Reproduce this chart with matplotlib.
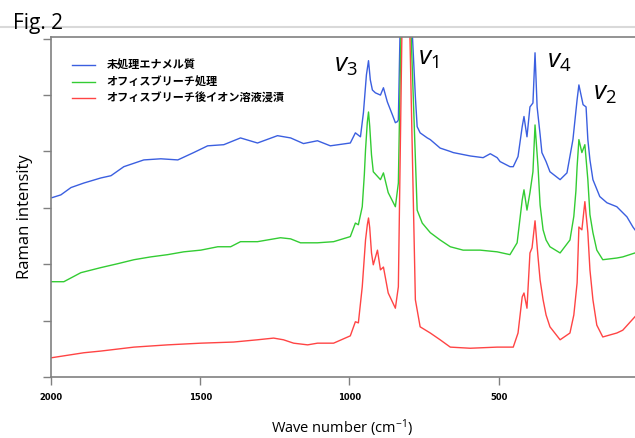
import matplotlib
matplotlib.use('Agg')
import matplotlib.pyplot as plt
from matplotlib.lines import Line2D

plt.rcParams['font.family'] = ['Open Sans', 'Noto Sans CJK JP', 'DejaVu Sans']
plt.rcParams['mathtext.fontset'] = 'custom'
plt.rcParams['mathtext.rm'] = 'Open Sans'
plt.rcParams['mathtext.it'] = 'Open Sans:italic'

# 凡例
labels = ['未処理エナメル質', 'オフィスブリーチ処理', 'オフィスブリーチ後イオン溶液浸漬']

# 未処理エナメル質 (blue)
blue_wn = [1997, 1967, 1933, 1890, 1833, 1799, 1756, 1689, 1632, 1575, 1522, 1475, 1421, 1365,
           1308, 1241, 1197, 1154, 1107, 1064, 997, 980, 963, 953, 943, 936, 930, 923, 913, 896,
           886, 873, 856, 846, 839, 836, 829, 811, 793, 779, 773, 763, 739, 729, 696, 662, 652,
           595, 552, 528, 505, 495, 462, 451, 435, 421, 415, 405, 395, 385, 378, 371, 361, 355,
           341, 328, 294, 271, 251, 237, 231, 217, 207, 201, 194, 184, 161, 137, 104, 70, 50, 43]
blue_int = [3.18, 3.23, 3.36, 3.44, 3.53, 3.57, 3.73, 3.85, 3.87, 3.85, 3.98, 4.10, 4.12, 4.24,
            4.15, 4.28, 4.24, 4.14, 4.19, 4.10, 4.15, 4.33, 4.26, 4.69, 5.36, 5.61, 5.27, 5.09, 5.04, 5.00,
            5.13, 4.88, 4.65, 4.51, 4.53, 4.56, 6.5, 9.0, 6.5, 4.97, 4.44, 4.33, 4.24, 4.21, 4.06, 4.00, 3.98,
            3.92, 3.89, 3.96, 3.89, 3.82, 3.73, 3.73, 3.91, 4.44, 4.62, 4.26, 4.79, 4.86, 5.75, 4.79, 4.30, 3.98,
            3.82, 3.64, 3.50, 3.62, 4.21, 4.92, 5.18, 4.83, 4.79, 4.21, 3.85, 3.50, 3.20, 3.09, 3.02, 2.84, 2.66, 2.61]

# オフィスブリーチ処理 (green)
green_wn = [2000, 1957, 1900, 1833, 1776, 1722, 1666, 1609, 1555, 1498, 1441, 1398, 1365, 1308,
            1231, 1197, 1164, 1107, 1053, 997, 980, 970, 957, 950, 946, 940, 936, 932, 926, 920,
            896, 886, 870, 846, 836, 826, 811, 796, 773, 756, 729, 696, 662, 619, 562, 505, 462,
            438, 421, 415, 405, 395, 385, 378, 368, 361, 351, 341, 328, 294, 261, 248, 241, 237,
            231, 221, 211, 201, 194, 184, 171, 151, 104, 84, 43]
green_int = [1.69, 1.69, 1.85, 1.94, 2.01, 2.08, 2.13, 2.17, 2.22, 2.25, 2.31, 2.31, 2.40, 2.40,
             2.47, 2.45, 2.38, 2.38, 2.40, 2.49, 2.73, 2.70, 3.02, 3.59, 4.03, 4.52, 4.70, 4.45, 3.94, 3.64,
             3.50, 3.62, 3.27, 3.02, 3.44, 6.5, 9.0, 6.5, 2.96, 2.73, 2.56, 2.43, 2.31, 2.25, 2.25, 2.22, 2.17,
             2.38, 3.14, 3.32, 2.96, 3.27, 3.64, 4.47, 3.73, 3.05, 2.61, 2.43, 2.31, 2.20, 2.43, 2.85, 3.30, 3.73,
             4.21, 3.98, 4.12, 3.50, 2.88, 2.56, 2.25, 2.08, 2.11, 2.13, 2.20]

# オフィスブリーチ後イオン溶液浸漬 (red)
red_wn = [2000, 1890, 1833, 1722, 1609, 1498, 1388, 1308, 1254, 1221, 1187, 1140, 1107, 1053,
          997, 980, 970, 957, 946, 940, 936, 932, 926, 920, 906, 896, 886, 870, 846, 836, 823,
          811, 799, 779, 763, 729, 696, 662, 595, 505, 451, 435, 421, 415, 405, 395, 388, 378,
          368, 361, 351, 341, 328, 294, 261, 248, 237, 231, 221, 211, 201, 194, 184, 171, 151,
          104, 84, 43]
red_int = [0.34, 0.43, 0.46, 0.53, 0.57, 0.60, 0.62, 0.66, 0.69, 0.66, 0.60, 0.57, 0.60, 0.60,
           0.73, 0.98, 0.96, 1.60, 2.43, 2.70, 2.82, 2.65, 2.20, 1.99, 2.25, 1.90, 1.95, 1.49, 1.22, 1.60, 6.5,
           9.0, 6.5, 1.37, 0.89, 0.78, 0.66, 0.53, 0.51, 0.53, 0.53, 0.78, 1.42, 1.49, 1.22, 2.20, 2.29, 2.77,
           2.13, 1.72, 1.37, 1.10, 0.89, 0.66, 0.78, 1.10, 1.67, 2.66, 2.61, 3.11, 2.56, 1.90, 1.37, 0.92, 0.71,
           0.78, 0.83, 1.07]

x_ticks = [2000, 1500, 1000, 500]

fig = plt.figure(figsize=(6.35, 4.38), dpi=100)
ax = fig.add_axes([51 / 635, 1 - 377 / 438, 584 / 635, 340 / 438])

ax.plot(blue_wn, blue_int, color='#3b5fe0', lw=1.0, label=labels[0])
ax.plot(green_wn, green_int, color='#33cc33', lw=1.0, label=labels[1])
ax.plot(red_wn, red_int, color='#ff4444', lw=1.0, label=labels[2])

ax.set_xlim(2000, 43)
ax.set_ylim(0, 6.03)
ax.set_xticks(x_ticks)
ax.set_xticklabels([str(t) for t in x_ticks], fontsize=6, fontweight='bold',
                   family=['Liberation Sans Narrow', 'DejaVu Sans'])
ax.set_yticks(range(7))
ax.set_yticklabels([])
ax.tick_params(direction='out', length=6, width=1, color='#808080', pad=5.5)
for s in ['left', 'bottom', 'top']:
    ax.spines[s].set_color('#808080')
    ax.spines[s].set_linewidth(1.2)
ax.spines['right'].set_visible(False)

leg = ax.legend(loc='upper left', bbox_to_anchor=(0.036, 0.935), frameon=False,
                borderpad=0, borderaxespad=0, handlelength=2.1, handletextpad=1.0,
                labelspacing=0.3, prop={'family': ['Noto Sans CJK JP'], 'weight': 'bold', 'size': 8})

# ピーク名
ax.text(1053, 5.41, r'$v_3$', fontsize=19, va='baseline')
ax.text(769, 5.54, r'$v_1$', fontsize=19, va='baseline')
ax.text(338, 5.49, r'$v_4$', fontsize=19, va='baseline')
ax.text(184, 4.92, r'$v_2$', fontsize=19, va='baseline')

fig.text(25 / 635, 1 - 217 / 438, 'Raman intensity', rotation=90, ha='center', va='center', fontsize=12)
fig.text(342 / 635, 1 - 428 / 438, 'Wave number (cm$^{-1}$)', ha='center', va='center', fontsize=10.5)
fig.text(13 / 635, 1 - 29 / 438, 'Fig. 2', ha='left', va='baseline', fontsize=15)
fig.add_artist(Line2D([0, 1], [1 - 27 / 438] * 2, color='#d9d9d9', lw=1.5, transform=fig.transFigure))

fig.savefig('out.png', dpi=100)
